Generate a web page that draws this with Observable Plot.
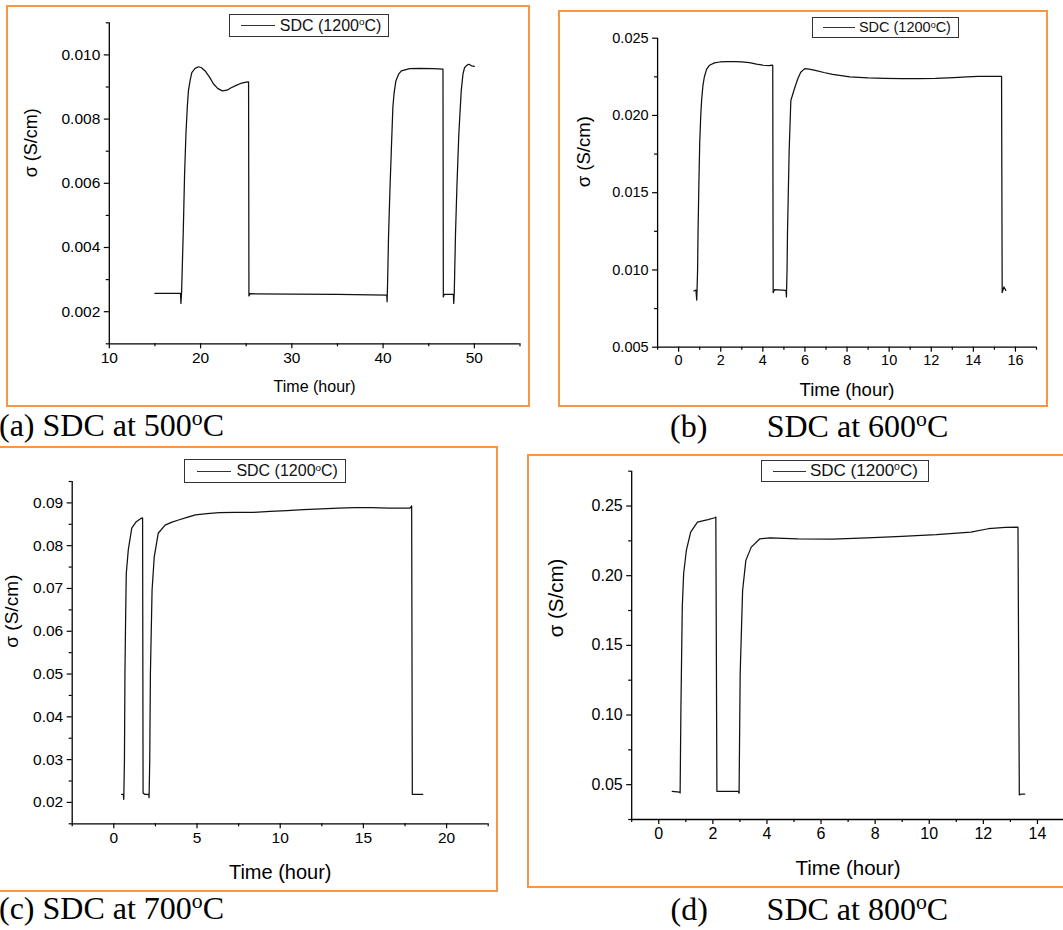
<!DOCTYPE html>
<html>
<head>
<meta charset="utf-8">
<script src="https://cdn.jsdelivr.net/npm/d3@7"></script>
<script src="https://cdn.jsdelivr.net/npm/@observablehq/plot@0.6"></script>
<style>
html,body{margin:0;padding:0;background:#fff;overflow:hidden;}
#page{position:relative;width:1063px;height:930px;overflow:hidden;background:#fff;}
.panel{position:absolute;border:2px solid #f79646;box-sizing:border-box;}
.chart{position:absolute;}
.chart svg{max-width:none !important;}
.legend{position:absolute;border:1px solid #333;background:#fff;box-sizing:border-box;font-family:"Liberation Sans",Arial,sans-serif;color:#111;white-space:nowrap;display:flex;align-items:center;}
.legend .swatch{display:inline-block;height:0;border-top:1.3px solid #333;}
.legend sup{font-size:0.62em;position:relative;top:-0.55em;vertical-align:baseline;line-height:0;}
.caption sup{font-size:0.68em;position:relative;top:-0.5em;vertical-align:baseline;line-height:0;}
.caption{position:absolute;font-family:"Liberation Serif","Times New Roman",serif;font-size:32px;color:#000;white-space:nowrap;line-height:1;}
</style>
</head>
<body>
<div id="page"></div>
<script>
// ---------------- data ----------------
const xLabel = "Time (hour)";
const yLabel = "σ (S/cm)";
const legendName = "SDC (1200";
const legendUnit = "C)";

// (a) SDC at 500 °C
const aTime  = [15.0, 17.8, 17.85, 17.92, 18.1, 18.25, 18.4, 18.55, 18.67, 18.85, 19.04, 19.4, 19.78, 20.1, 20.5, 21.0, 21.4, 21.9, 22.4, 22.9, 23.3, 23.9, 24.4, 25.0, 25.26, 25.3, 25.4, 30.0, 35.0, 40.4, 40.44, 40.5, 40.6, 40.75, 40.9, 41.07, 41.2, 41.4, 41.7, 42.0, 42.9, 44.0, 45.5, 46.56, 46.6, 46.7, 47.7, 47.74, 47.8, 47.93, 48.1, 48.3, 48.56, 48.75, 48.92, 49.2, 49.4, 49.7, 50.0];
const aSigma = [0.00257, 0.00257, 0.00226, 0.00260, 0.00444, 0.0063, 0.00755, 0.0084, 0.00888, 0.0092, 0.00945, 0.00958, 0.00963, 0.0096, 0.0095, 0.0093, 0.0091, 0.00895, 0.00888, 0.0089, 0.00897, 0.00905, 0.00911, 0.00915, 0.00916, 0.00249, 0.00256, 0.00255, 0.00254, 0.00252, 0.00231, 0.0030, 0.0044, 0.0058, 0.00702, 0.00836, 0.0088, 0.00919, 0.0094, 0.0095, 0.00957, 0.00958, 0.00957, 0.00956, 0.00246, 0.00254, 0.00254, 0.00226, 0.0026, 0.0044, 0.0060, 0.00755, 0.00888, 0.0094, 0.0096, 0.00968, 0.00971, 0.00966, 0.00964];
const aXDomain = [10, 55];
const aYDomain = [0.001, 0.011];
const aXTicks = [10, 20, 30, 40, 50];
const aXMinor = [15, 25, 35, 45, 55];
const aYTicks = [0.002, 0.004, 0.006, 0.008, 0.010];
const aYMinor = [0.001, 0.003, 0.005, 0.007, 0.009, 0.011];

// (b) SDC at 600 °C
const bTime  = [0.72, 0.82, 0.86, 0.9, 0.92, 0.96, 1.0, 1.05, 1.09, 1.15, 1.22, 1.33, 1.47, 1.7, 1.96, 2.3, 2.7, 3.0, 3.36, 3.7, 4.0, 4.3, 4.44, 4.47, 4.49, 4.55, 5.1, 5.12, 5.15, 5.17, 5.25, 5.33, 5.5, 5.66, 5.8, 5.99, 6.2, 6.49, 6.9, 7.31, 8.13, 9.0, 9.78, 10.6, 11.42, 12.2, 13.07, 13.7, 14.22, 15.34, 15.37, 15.45, 15.54];
const bSigma = [0.00864, 0.0087, 0.00805, 0.0100, 0.01234, 0.0155, 0.01818, 0.0200, 0.02097, 0.0219, 0.02249, 0.0230, 0.02325, 0.0234, 0.02346, 0.02349, 0.02349, 0.02346, 0.02342, 0.02332, 0.02325, 0.02322, 0.02326, 0.02323, 0.00853, 0.00872, 0.00868, 0.00825, 0.0100, 0.01234, 0.01773, 0.02097, 0.02173, 0.02238, 0.0228, 0.02303, 0.0230, 0.02292, 0.02278, 0.02266, 0.02249, 0.02243, 0.0224, 0.02238, 0.02238, 0.0224, 0.02245, 0.0225, 0.02253, 0.02253, 0.00853, 0.0089, 0.00868];
const bXDomain = [-1, 17];
const bYDomain = [0.005, 0.025];
const bXTicks = [0, 2, 4, 6, 8, 10, 12, 14, 16];
const bXMinor = [-1, 1, 3, 5, 7, 9, 11, 13, 15, 17];
const bYTicks = [0.005, 0.010, 0.015, 0.020, 0.025];
const bYMinor = [0.0075, 0.0125, 0.0175, 0.0225];

// (c) SDC at 700 °C
const cTime  = [0.47, 0.57, 0.6, 0.64, 0.67, 0.71, 0.75, 0.87, 1.08, 1.35, 1.65, 1.73, 1.76, 1.85, 2.1, 2.12, 2.16, 2.2, 2.3, 2.43, 2.67, 3.08, 3.5, 3.89, 4.4, 4.91, 5.6, 6.34, 7.3, 8.38, 9.4, 10.4, 11.4, 12.46, 13.5, 14.5, 15.5, 16.53, 17.8, 17.9, 17.94, 18.57];
const cSigma = [0.02185, 0.0219, 0.0207, 0.030, 0.0501, 0.063, 0.0735, 0.079, 0.0841, 0.0856, 0.0864, 0.0865, 0.0222, 0.0219, 0.0219, 0.0211, 0.030, 0.0501, 0.0696, 0.0774, 0.0829, 0.0848, 0.0855, 0.086, 0.0866, 0.0872, 0.0875, 0.0877, 0.0878, 0.0878, 0.088, 0.0882, 0.0884, 0.0886, 0.0888, 0.0889, 0.0889, 0.0888, 0.0888, 0.0893, 0.0219, 0.0219];
const cXDomain = [-2.5, 22.5];
const cYDomain = [0.015, 0.095];
const cXTicks = [0, 5, 10, 15, 20];
const cXMinor = [-2.5, 2.5, 7.5, 12.5, 17.5, 22.5];
const cYTicks = [0.02, 0.03, 0.04, 0.05, 0.06, 0.07, 0.08, 0.09];
const cYMinor = [0.015, 0.025, 0.035, 0.045, 0.055, 0.065, 0.075, 0.085, 0.095];

// (d) SDC at 800 °C
const dTime  = [0.5, 0.77, 0.79, 0.82, 0.87, 0.92, 1.02, 1.18, 1.43, 1.82, 2.07, 2.11, 2.15, 2.5, 2.94, 2.97, 3.01, 3.1, 3.22, 3.42, 3.74, 4.12, 5.14, 6.42, 7.7, 8.98, 10.26, 11.54, 12.18, 12.82, 13.28, 13.33, 13.4, 13.53];
const dSigma = [0.0452, 0.0447, 0.0440, 0.1056, 0.1774, 0.2014, 0.2181, 0.2313, 0.2385, 0.2402, 0.2416, 0.2421, 0.0452, 0.0452, 0.0451, 0.0438, 0.1295, 0.1894, 0.211, 0.2205, 0.2265, 0.2272, 0.2265, 0.2263, 0.2272, 0.2282, 0.2294, 0.2313, 0.2337, 0.2347, 0.2349, 0.0426, 0.0433, 0.0433];
const dXDomain = [-1, 15];
const dYDomain = [0.025, 0.275];
const dXTicks = [0, 2, 4, 6, 8, 10, 12, 14];
const dXMinor = [-1, 1, 3, 5, 7, 9, 11, 13, 15];
const dYTicks = [0.05, 0.10, 0.15, 0.20, 0.25];
const dYMinor = [0.025, 0.075, 0.125, 0.175, 0.225, 0.275];

const captionLabels = ["(a)", "(b)", "(c)", "(d)"];
const captionTexts = ["SDC at 500", "SDC at 600", "SDC at 700", "SDC at 800"];

// ---------------- drawing ----------------
const page = document.getElementById("page");

function makeChart(o) {
  const data = o.time.map((t, i) => ({t, s: o.sigma[i]}));
  const stroke = "#000";
  return Plot.plot({
    width: o.w, height: o.h,
    marginLeft: o.ml, marginRight: o.mr, marginTop: o.mt, marginBottom: o.mb,
    x: {domain: o.xDomain, nice: false},
    y: {domain: o.yDomain, nice: false},
    style: {fontFamily: "'Liberation Sans', Arial, sans-serif", fontSize: o.tickFont + "px", background: "transparent", overflow: "visible", color: "#000", maxWidth: "none"},
    marks: [
      Plot.ruleX([o.xDomain[0]], {stroke, strokeWidth: 1.3}),
      Plot.ruleY([o.yDomain[0]], {stroke, strokeWidth: 1.3}),
      Plot.axisX(o.xTicks, {tickSize: 5, tickPadding: 3, tickFormat: d3.format("d"), label: null, strokeWidth: 1.2, fontSize: o.tickFont}),
      Plot.axisX(o.xMinor, {tickSize: 3, tickFormat: () => "", label: null, strokeWidth: 1.2}),
      Plot.axisY(o.yTicks, {tickSize: 5, tickPadding: 4, tickFormat: d3.format(o.yFmt), label: null, strokeWidth: 1.2, fontSize: o.tickFont}),
      Plot.axisY(o.yMinor, {tickSize: 3, tickFormat: () => "", label: null, strokeWidth: 1.2}),
      Plot.line(data, {x: "t", y: "s", stroke: "#111", strokeWidth: 1.25, curve: "linear"}),
      Plot.text([xLabel], {text: d => d, frameAnchor: "bottom", dy: o.xlDy, lineAnchor: "middle", fontSize: o.xlFont, fill: "#000"}),
      Plot.text([yLabel], {text: d => d, frameAnchor: "left", dx: -o.ylOff, dy: o.ylDy, rotate: -90, lineAnchor: "middle", fontSize: o.ylFont, fill: "#000"})
    ]
  });
}

function addBox(cls, l, t, w, h) {
  const d = document.createElement("div");
  d.className = cls;
  Object.assign(d.style, {left: l + "px", top: t + "px", width: w + "px", height: h + "px"});
  page.appendChild(d);
  return d;
}

function addLegend(l, t, w, h, swL, swW, gap, font) {
  const d = addBox("legend", l, t, w, h);
  d.style.fontSize = font + "px";
  const sw = document.createElement("span");
  sw.className = "swatch";
  sw.style.marginLeft = swL + "px";
  sw.style.width = swW + "px";
  d.appendChild(sw);
  const tx = document.createElement("span");
  tx.style.marginLeft = gap + "px";
  tx.innerHTML = legendName + "<sup>o</sup>" + legendUnit;
  d.appendChild(tx);
}

function addCaption(i, l, baseline, l2) {
  const d = document.createElement("div");
  d.className = "caption";
  d.style.left = l + "px";
  d.style.top = (baseline - 26.8) + "px";
  const a = document.createElement("span");
  a.textContent = captionLabels[i];
  d.appendChild(a);
  const b = document.createElement("span");
  b.innerHTML = captionTexts[i] + "<sup>o</sup>C";
  if (l2 != null) { b.style.position = "absolute"; b.style.left = (l2 - l) + "px"; b.style.top = "0px"; }
  else { b.innerHTML = " " + b.innerHTML; }
  d.appendChild(b);
  page.appendChild(d);
}

function placeChart(left, top, o) {
  const svg = makeChart(o);
  const wrap = document.createElement("div");
  wrap.className = "chart";
  wrap.style.left = left + "px";
  wrap.style.top = top + "px";
  wrap.style.width = o.w + "px";
  wrap.style.height = o.h + "px";
  wrap.appendChild(svg);
  page.appendChild(wrap);
}

// orange frames
addBox("panel", 6, 5, 524, 402);
addBox("panel", 558, 10, 490, 397);
addBox("panel", -10, 446, 508, 446);
addBox("panel", 527, 454, 548, 434);

// (a)
placeChart(0, 0, {time: aTime, sigma: aSigma, xDomain: aXDomain, yDomain: aYDomain, xTicks: aXTicks, xMinor: aXMinor, yTicks: aYTicks, yMinor: aYMinor, yFmt: ".3f",
  w: 530, h: 410, ml: 108.8, mr: 10.5, mt: 22.3, mb: 66.7, tickFont: 15.5, xlFont: 16, ylFont: 18, xlDy: 42.7, ylOff: 78.4, ylDy: -6});
// (b)
placeChart(540, 0, {time: bTime, sigma: bSigma, xDomain: bXDomain, yDomain: bYDomain, xTicks: bXTicks, xMinor: bXMinor, yTicks: bYTicks, yMinor: bYMinor, yFmt: ".3f",
  w: 520, h: 410, ml: 117.1, mr: 24, mt: 37.7, mb: 63.3, tickFont: 14.5, xlFont: 18.5, ylFont: 18.5, xlDy: 43.3, ylOff: 73.1, ylDy: -5.5});
// (c)
placeChart(0, 440, {time: cTime, sigma: cSigma, xDomain: cXDomain, yDomain: cYDomain, xTicks: cXTicks, xMinor: cXMinor, yTicks: cYTicks, yMinor: cYMinor, yFmt: ".2f",
  w: 500, h: 450, ml: 71.7, mr: 12.3, mt: 41, mb: 66.7, tickFont: 15.5, xlFont: 20, ylFont: 19, xlDy: 49, ylOff: 60.2, ylDy: -5});
// (d)
placeChart(530, 450, {time: dTime, sigma: dSigma, xDomain: dXDomain, yDomain: dYDomain, xTicks: dXTicks, xMinor: dXMinor, yTicks: dYTicks, yMinor: dYMinor, yFmt: ".2f",
  w: 540, h: 440, ml: 101.2, mr: 6, mt: 20.7, mb: 71, tickFont: 16, xlFont: 20.5, ylFont: 20.5, xlDy: 49.3, ylOff: 74.8, ylDy: -8});

// legends
addLegend(228.8, 14, 160, 23.3, 11, 34, 5, 16);
addLegend(811.9, 16.7, 147.2, 21.6, 10, 32, 4, 14.5);
addLegend(183.9, 459, 162.6, 24.3, 12, 34.5, 5, 16);
addLegend(761, 460, 168, 22, 11, 33, 4, 17);

// captions
addCaption(0, -1, 436, null);
addCaption(1, 670, 437, 766.7);
addCaption(2, -1, 918.3, null);
addCaption(3, 670.6, 920, 766.6);
</script>
</body>
</html>
